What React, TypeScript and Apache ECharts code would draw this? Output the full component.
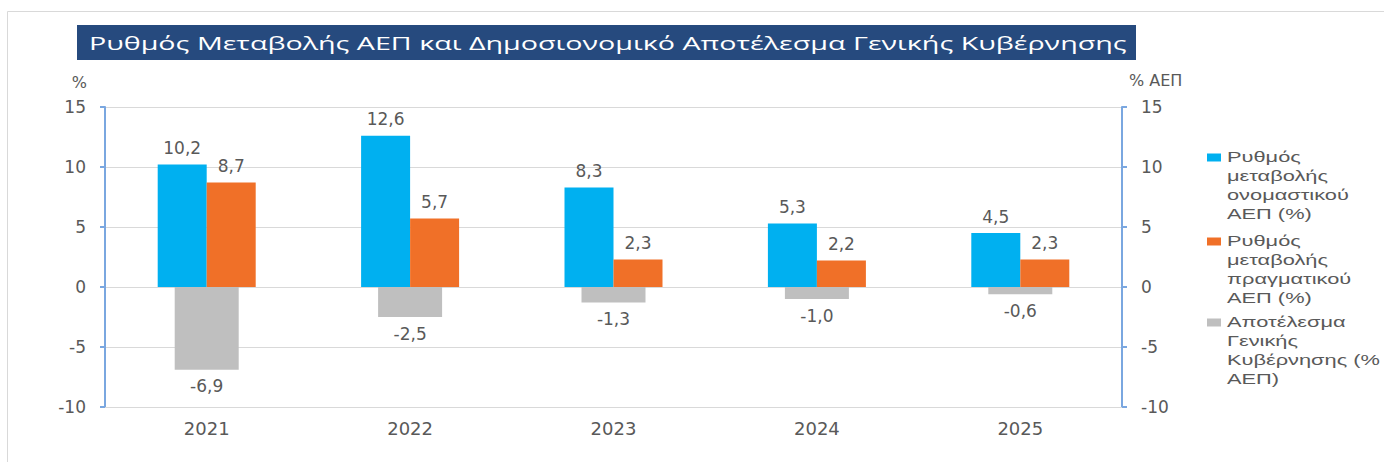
import React, { useEffect, useRef } from 'react';
import * as echarts from 'echarts';

const years = ['2021', '2022', '2023', '2024', '2025'];
const nominalGrowth = [10.2, 12.6, 8.3, 5.3, 4.5];
const realGrowth = [8.7, 5.7, 2.3, 2.2, 2.3];
const govBalance = [-6.9, -2.5, -1.3, -1.0, -0.6];

const titleText = 'Ρυθμός Μεταβολής ΑΕΠ και Δημοσιονομικό Αποτέλεσμα Γενικής Κυβέρνησης';
const seriesNames = [
  'Ρυθμός μεταβολής ονομαστικού ΑΕΠ (%)',
  'Ρυθμός μεταβολής πραγματικού ΑΕΠ (%)',
  'Αποτέλεσμα Γενικής Κυβέρνησης (% ΑΕΠ)',
];
const legendLines = [
  ['Ρυθμός', 'μεταβολής', 'ονομαστικού', 'ΑΕΠ (%)'],
  ['Ρυθμός', 'μεταβολής', 'πραγματικού', 'ΑΕΠ (%)'],
  ['Αποτέλεσμα', 'Γενικής', 'Κυβέρνησης (%', 'ΑΕΠ)'],
];
const colors = ['#00b0f0', '#f07028', '#bfbfbf'];
const yMin = -10;
const yMax = 15;
const yStep = 5;

const FONT = '"DejaVu Sans", sans-serif';
const TXT = '#595959';
const AXIS_BLUE = '#7aa7e0';

function measure(text: string, font: string): number {
  const ctx = document.createElement('canvas').getContext('2d');
  if (!ctx) return text.length * 8;
  ctx.font = font;
  return ctx.measureText(text).width;
}

const fmt = (p: any) => Number(p.value).toFixed(1).replace('.', ',');

export default function App() {
  const ref = useRef<HTMLDivElement>(null);
  useEffect(() => {
    document.body.style.margin = '0';
    if (!ref.current) return;
    const chart = echarts.init(ref.current, undefined, { renderer: 'svg' });

    const titleFont = '19px "Open Sans"';
    const titleScale = 1038 / measure(titleText, titleFont);
    const legFont = '14px "Liberation Sans"';
    const legScale = 153 / measure('Κυβέρνησης (%', legFont);

    const legendTops = [147.5, 231.5, 312.5];
    const legendGraphics: any[] = [];
    legendLines.forEach((lines, i) => {
      legendGraphics.push({
        type: 'rect',
        shape: { x: 1207, y: legendTops[i] + 6, width: 14, height: 8 },
        style: { fill: colors[i] },
      });
      legendGraphics.push({
        type: 'text',
        x: 1227,
        y: legendTops[i],
        scaleX: legScale,
        style: {
          text: lines.join('\n'),
          font: legFont,
          lineHeight: 19,
          fill: TXT,
          verticalAlign: 'top',
          align: 'left',
        },
      });
    });

    const barLabel = (pos: string) => ({
      show: true,
      position: pos,
      distance: 8,
      formatter: fmt,
      color: TXT,
      fontSize: 17,
      fontFamily: FONT,
    });

    const axisCommon = {
      type: 'value',
      min: yMin,
      max: yMax,
      interval: yStep,
      axisLine: { show: true, onZero: false, lineStyle: { color: AXIS_BLUE, width: 2 } },
      axisTick: { show: true, length: 5, lineStyle: { color: AXIS_BLUE, width: 2 } },
      axisLabel: { color: TXT, fontSize: 17, fontFamily: FONT, margin: 19 },
    };

    chart.setOption({
      animation: false,
      backgroundColor: '#ffffff',
      grid: { left: 105, right: 262, top: 107, bottom: 55 },
      xAxis: [
        {
          type: 'category',
          data: years,
          axisLine: { show: true, onZero: false, lineStyle: { color: '#d9d9d9' } },
          axisTick: { show: false },
          axisLabel: { color: TXT, fontSize: 18, fontFamily: FONT, margin: 12 },
        },
        { type: 'category', data: years, show: false },
      ],
      yAxis: [
        {
          ...axisCommon,
          position: 'left',
          name: '%',
          nameLocation: 'end',
          nameGap: 17,
          nameTextStyle: {
            color: TXT,
            fontSize: 16,
            fontFamily: FONT,
            align: 'right',
            verticalAlign: 'bottom',
            padding: [0, 18, 0, 0],
          },
          splitLine: { show: true, lineStyle: { color: '#d9d9d9', width: 1 } },
        },
        {
          ...axisCommon,
          position: 'right',
          name: '% ΑΕΠ',
          nameLocation: 'end',
          nameGap: 19,
          nameTextStyle: {
            color: TXT,
            fontSize: 16,
            fontFamily: FONT,
            align: 'left',
            verticalAlign: 'bottom',
            padding: [0, 0, 0, 7],
          },
          splitLine: { show: false },
        },
      ],
      series: [
        {
          type: 'bar',
          name: seriesNames[0],
          data: nominalGrowth,
          xAxisIndex: 0,
          yAxisIndex: 0,
          barWidth: 49,
          barGap: '0%',
          itemStyle: { color: colors[0] },
          label: barLabel('top'),
        },
        {
          type: 'bar',
          name: seriesNames[1],
          data: realGrowth,
          xAxisIndex: 0,
          yAxisIndex: 0,
          barWidth: 49,
          barGap: '0%',
          itemStyle: { color: colors[1] },
          label: barLabel('top'),
        },
        {
          type: 'bar',
          name: seriesNames[2],
          data: govBalance,
          xAxisIndex: 1,
          yAxisIndex: 1,
          barWidth: 64,
          itemStyle: { color: colors[2] },
          label: barLabel('bottom'),
        },
      ],
      graphic: [
        {
          type: 'line',
          shape: { x1: 7.5, y1: 11.5, x2: 1384, y2: 11.5 },
          style: { stroke: '#d9d9d9', lineWidth: 1 },
        },
        {
          type: 'line',
          shape: { x1: 7.5, y1: 11.5, x2: 7.5, y2: 462 },
          style: { stroke: '#d9d9d9', lineWidth: 1 },
        },
        {
          type: 'rect',
          shape: { x: 77, y: 25, width: 1059, height: 35 },
          style: { fill: '#264a7e' },
        },
        {
          type: 'text',
          x: 89,
          y: 43,
          scaleX: titleScale,
          style: {
            text: titleText,
            font: titleFont,
            fill: '#ffffff',
            verticalAlign: 'middle',
            align: 'left',
          },
        },
        ...legendGraphics,
      ],
    });
    return () => chart.dispose();
  }, []);
  return (
    <div
      ref={ref}
      style={{ position: 'absolute', left: 0, top: 0, width: 1384, height: 462 }}
    />
  );
}
